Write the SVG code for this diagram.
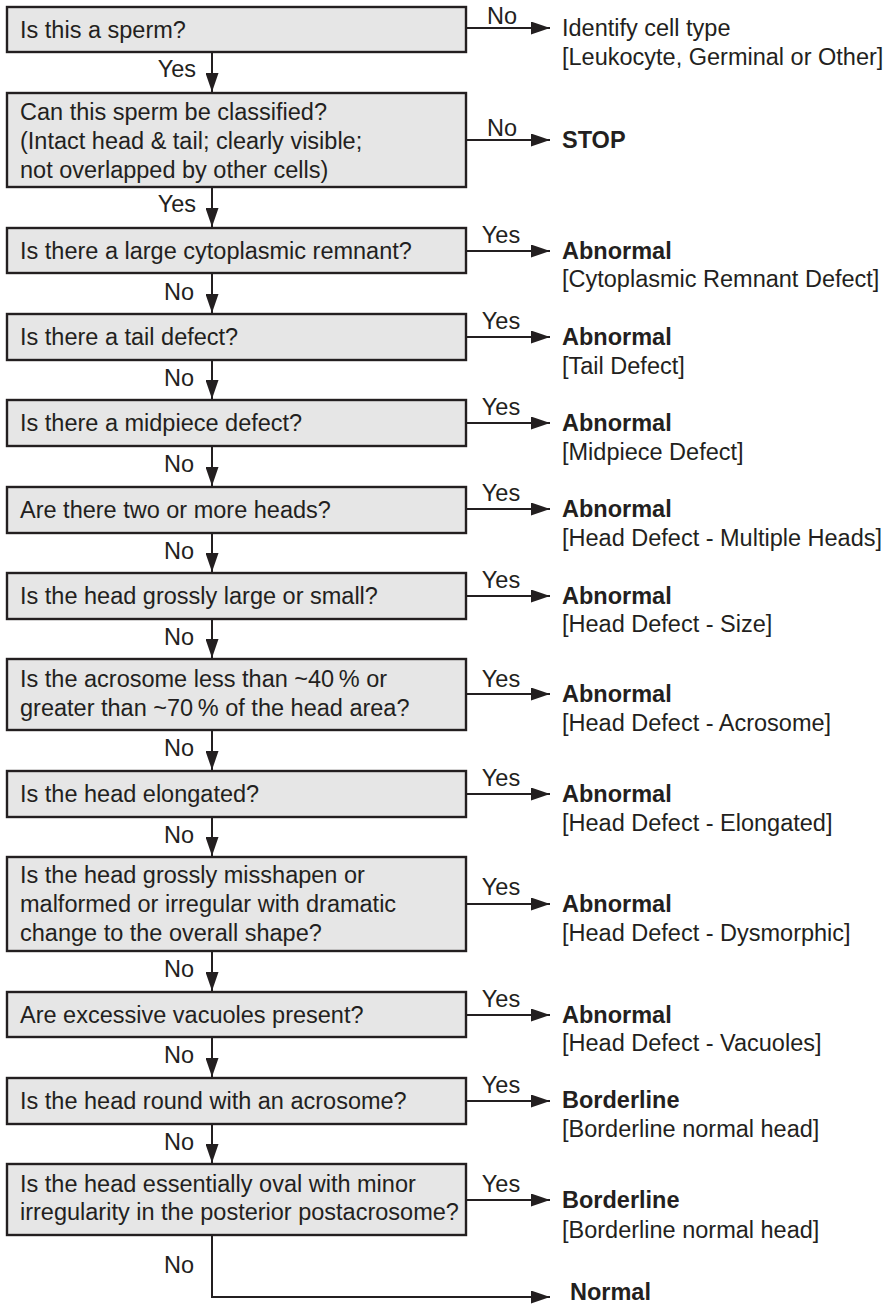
<svg xmlns="http://www.w3.org/2000/svg" width="892" height="1304" viewBox="0 0 892 1304">
<defs>
<marker id="ah" markerUnits="userSpaceOnUse" markerWidth="19" markerHeight="13" refX="19" refY="6.5" orient="auto">
<path d="M0,0 L19,6.5 L0,13 z" fill="#231f20"/>
</marker>
<style>
text{font-family:"Liberation Sans",Arial,Helvetica,sans-serif;font-size:23.5px;fill:#231f20}
.b{font-weight:bold}
.box{fill:#e6e6e6;stroke:#231f20;stroke-width:2.4}
.c line,.c path{stroke:#231f20;stroke-width:2;fill:none;marker-end:url(#ah)}
.m{text-anchor:middle}
.e{text-anchor:end}
</style>
</defs>
<rect width="892" height="1304" fill="#fff"/>

<g id="q1"><rect class="box" x="7" y="7" width="459" height="45"/><text x="20" y="37.5">Is this a sperm?</text></g>
<g id="q2"><rect class="box" x="7" y="93" width="459" height="94"/><text x="20" y="120">Can this sperm be classified?</text><text x="20" y="149">(Intact head &amp; tail; clearly visible;</text><text x="20" y="178">not overlapped by other cells)</text></g>
<g id="q3"><rect class="box" x="7" y="228" width="459" height="45"/><text x="20" y="258.5">Is there a large cytoplasmic remnant?</text></g>
<g id="q4"><rect class="box" x="7" y="314" width="459" height="46"/><text x="20" y="345">Is there a tail defect?</text></g>
<g id="q5"><rect class="box" x="7" y="400" width="459" height="46"/><text x="20" y="431">Is there a midpiece defect?</text></g>
<g id="q6"><rect class="box" x="7" y="487" width="459" height="46"/><text x="20" y="518">Are there two or more heads?</text></g>
<g id="q7"><rect class="box" x="7" y="573" width="459" height="46"/><text x="20" y="604">Is the head grossly large or small?</text></g>
<g id="q8"><rect class="box" x="7" y="659" width="459" height="71"/><text x="20" y="687">Is the acrosome less than ~40&#8201;% or</text><text x="20" y="716">greater than ~70&#8201;% of the head area?</text></g>
<g id="q9"><rect class="box" x="7" y="771" width="459" height="46"/><text x="20" y="802">Is the head elongated?</text></g>
<g id="q10"><rect class="box" x="7" y="857" width="459" height="94"/><text x="20" y="883">Is the head grossly misshapen or</text><text x="20" y="912">malformed or irregular with dramatic</text><text x="20" y="941">change to the overall shape?</text></g>
<g id="q11"><rect class="box" x="7" y="992" width="459" height="45"/><text x="20" y="1022.5">Are excessive vacuoles present?</text></g>
<g id="q12"><rect class="box" x="7" y="1078" width="459" height="46"/><text x="20" y="1109">Is the head round with an acrosome?</text></g>
<g id="q13"><rect class="box" x="7" y="1164" width="459" height="71"/><text x="20" y="1192">Is the head essentially oval with minor</text><text x="20" y="1220">irregularity in the posterior postacrosome?</text></g>

<g id="r1"><text x="562" y="36">Identify cell type</text><text x="562" y="65">[Leukocyte, Germinal or Other]</text></g>
<g id="r2"><text class="b" x="562" y="148">STOP</text></g>
<g id="r3"><text class="b" x="562" y="258.5">Abnormal</text><text x="562" y="287">[Cytoplasmic Remnant Defect]</text></g>
<g id="r4"><text class="b" x="562" y="345">Abnormal</text><text x="562" y="373.5">[Tail Defect]</text></g>
<g id="r5"><text class="b" x="562" y="431">Abnormal</text><text x="562" y="459.5">[Midpiece Defect]</text></g>
<g id="r6"><text class="b" x="562" y="517">Abnormal</text><text x="562" y="545.5">[Head Defect - Multiple Heads]</text></g>
<g id="r7"><text class="b" x="562" y="603.5">Abnormal</text><text x="562" y="632">[Head Defect - Size]</text></g>
<g id="r8"><text class="b" x="562" y="702">Abnormal</text><text x="562" y="730.5">[Head Defect - Acrosome]</text></g>
<g id="r9"><text class="b" x="562" y="802">Abnormal</text><text x="562" y="830.5">[Head Defect - Elongated]</text></g>
<g id="r10"><text class="b" x="562" y="912">Abnormal</text><text x="562" y="940.5">[Head Defect - Dysmorphic]</text></g>
<g id="r11"><text class="b" x="562" y="1022.5">Abnormal</text><text x="562" y="1051">[Head Defect - Vacuoles]</text></g>
<g id="r12"><text class="b" x="562" y="1108">Borderline</text><text x="562" y="1137">[Borderline normal head]</text></g>
<g id="r13"><text class="b" x="562" y="1208">Borderline</text><text x="562" y="1237.5">[Borderline normal head]</text></g>
<g id="r14"><text class="b" x="570" y="1300">Normal</text></g>

<g id="connectors" class="c">
<line x1="212" y1="52" x2="212" y2="92"/>
<line x1="212" y1="187" x2="212" y2="227"/>
<line x1="212" y1="273" x2="212" y2="313"/>
<line x1="212" y1="360" x2="212" y2="399"/>
<line x1="212" y1="446" x2="212" y2="486"/>
<line x1="212" y1="533" x2="212" y2="572"/>
<line x1="212" y1="619" x2="212" y2="658"/>
<line x1="212" y1="730" x2="212" y2="770"/>
<line x1="212" y1="817" x2="212" y2="856"/>
<line x1="212" y1="951" x2="212" y2="991"/>
<line x1="212" y1="1037" x2="212" y2="1077"/>
<line x1="212" y1="1124" x2="212" y2="1163"/>
<path d="M212,1235 V1297 H550"/>
<line x1="466" y1="28" x2="550" y2="28"/>
<line x1="466" y1="140" x2="550" y2="140"/>
<line x1="466" y1="251" x2="550" y2="251"/>
<line x1="466" y1="337" x2="550" y2="337"/>
<line x1="466" y1="423" x2="550" y2="423"/>
<line x1="466" y1="509" x2="550" y2="509"/>
<line x1="466" y1="596" x2="550" y2="596"/>
<line x1="466" y1="694" x2="550" y2="694"/>
<line x1="466" y1="794" x2="550" y2="794"/>
<line x1="466" y1="904" x2="550" y2="904"/>
<line x1="466" y1="1015" x2="550" y2="1015"/>
<line x1="466" y1="1101" x2="550" y2="1101"/>
<line x1="466" y1="1200" x2="550" y2="1200"/>
</g>
<g id="labels">
<text class="m" x="502" y="24">No</text>
<text class="m" x="502" y="136">No</text>
<text class="m" x="501" y="243">Yes</text>
<text class="m" x="501" y="329">Yes</text>
<text class="m" x="501" y="415">Yes</text>
<text class="m" x="501" y="501">Yes</text>
<text class="m" x="501" y="588">Yes</text>
<text class="m" x="501" y="687">Yes</text>
<text class="m" x="501" y="786">Yes</text>
<text class="m" x="501" y="895">Yes</text>
<text class="m" x="501" y="1007">Yes</text>
<text class="m" x="501" y="1093">Yes</text>
<text class="m" x="501" y="1192">Yes</text>
<text class="e" x="196" y="77">Yes</text>
<text class="e" x="196" y="212">Yes</text>
<text class="e" x="194" y="300">No</text>
<text class="e" x="194" y="386">No</text>
<text class="e" x="194" y="472">No</text>
<text class="e" x="194" y="559">No</text>
<text class="e" x="194" y="645">No</text>
<text class="e" x="194" y="756">No</text>
<text class="e" x="194" y="843">No</text>
<text class="e" x="194" y="977">No</text>
<text class="e" x="194" y="1063">No</text>
<text class="e" x="194" y="1150">No</text>
<text class="e" x="194" y="1273">No</text>
</g>
</svg>
